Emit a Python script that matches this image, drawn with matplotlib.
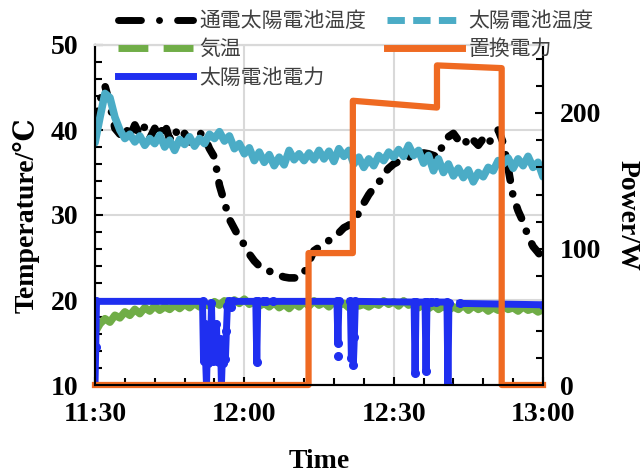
import numpy as np
import matplotlib
matplotlib.use('Agg')
import matplotlib.pyplot as plt
from matplotlib.lines import Line2D
from matplotlib.ticker import MultipleLocator, FixedLocator

plt.rcParams['font.family'] = ['Liberation Serif', 'DejaVu Serif']
plt.rcParams['font.weight'] = 'bold'

nan = np.nan

# minutes after 11:30, one reading per minute
minutes = list(range(0, 91))

# 通電太陽電池温度 (degC)
cell_temp_on = [40.8, 43.5, 45.2, 43.0, 40.2, 39.5, 40.5, 39.2, 40.6, 39.4,
                40.4, 39.0, 40.2, 39.3, 40.8, 38.9, 40.1, 39.0, 39.6, 38.6,
                39.4, 39.7, 39.2, 37.8, 36.8, 33.5, 31.5, 29.5, 28.4, 27.3,
                26.5, 25.4, 24.6, 24.0, 23.7, 23.4, 23.1, 22.9, 22.7, 22.6,
                22.6, 22.6, 23.2, 24.5, 25.8, 26.2, 26.6, 27.0, 27.5, 27.9,
                28.5, 28.8, 29.5, 30.2, 31.4, 32.4, 33.2, 33.8, 34.8, 35.5,
                36.0, 36.3, 36.5, 36.8, 37.0, 37.1, 37.3, 37.2, 37.0, 36.8,
                38.6, 39.2, 39.6, 38.8, 39.2, 38.1, 38.8, 38.2, 39.0, 38.3,
                39.4, 40.0, 38.5, 35.5, 32.2, 30.5, 29.2, 27.5, 26.3, 25.6,
                24.8]

# 太陽電池温度 (degC)
cell_temp = [38.5, 41.5, 44.3, 43.8, 41.5, 40.0, 39.0, 39.5, 38.6, 39.3,
             38.2, 39.0, 38.4, 39.4, 38.0, 38.8, 37.6, 38.9, 38.3, 39.2,
             38.1, 39.0, 38.4, 39.5, 39.0, 39.8, 38.7, 39.3, 37.8, 38.4,
             37.2, 37.9, 36.4, 37.4, 36.2, 37.1, 35.8, 36.8, 35.9, 37.6,
             36.5, 37.2, 36.4, 37.3, 36.5, 37.6, 36.6, 37.5, 36.3, 37.8,
             36.9, 37.6, 36.0, 36.8, 35.6, 36.6, 35.8, 37.0, 36.4, 37.4,
             36.8, 37.7, 36.9, 38.2, 37.0, 37.6, 36.1, 37.0, 35.2, 36.6,
             35.0, 36.0, 34.6, 35.5, 34.4, 35.3, 33.9, 35.0, 34.5, 35.6,
             35.2, 36.4, 36.0, 36.7, 35.5, 36.6, 35.8, 36.9, 35.6, 36.2,
             34.5]

# 気温 (degC)
air_temp = [16.2, 17.2, 17.8, 17.4, 18.2, 17.9, 18.6, 18.2, 18.9, 18.4,
            19.1, 18.7, 19.3, 18.8, 19.2, 18.9, 19.4, 19.0, 19.5, 19.1,
            19.6, 19.2, 19.5, 19.3, 19.8, 19.4, 19.9, 19.5, 20.0, 19.6,
            20.1, 19.5, 19.8, 19.3, 19.6, 19.2, 19.7, 19.1, 19.5, 19.0,
            19.6, 19.2, 19.8, 19.3, 19.9, 19.4, 19.7, 19.2, 19.8, 19.4,
            19.6, 19.1, 19.7, 19.3, 19.5, 19.2, 19.6, 19.4, 19.9, 19.5,
            19.8, 19.3, 19.9, 19.4, 19.7, 19.1, 19.5, 19.0, 19.4, 18.9,
            19.3, 18.8, 19.2, 18.9, 19.4, 18.8, 19.3, 18.9, 19.2, 18.7,
            19.1, 18.8, 19.3, 18.9, 19.1, 18.7, 19.2, 18.8, 19.0, 18.6,
            18.9]

# 太陽電池電力 (W)
pv_t = [0.0, 0.15, 0.3, 21.6, 21.8, 22.0, 22.2, 22.4, 22.6, 22.8,
        23.0, 23.2, 23.4, 23.6, 23.8, 24.0, 24.2, 24.4, 24.6, 24.8,
        25.0, 25.2, 25.4, 25.6, 25.8, 26.0, 26.2, 26.4, 26.6, 26.9,
        nan, 27.3, nan, 27.8, 32.3, 32.5, 32.7, 33.8, nan, 34.4,
        nan, 35.8, 48.6, 48.8, 49.0, nan, 48.8, nan, 51.3, 51.5,
        51.7, 51.9, 52.1, 52.3, 64.1, 64.3, 64.5, 66.3, 66.5, 66.7,
        67.4, nan, 68.5, 70.7, 70.9, 71.1, nan, 73.3, 90.0]
pv_w = [0, 28, 61.5, 61.5, 18, 45, 20, 0, 30, 16,
        42, 22, 60, 24, 18, 35, 20, 45, 18, 28,
        17, 34, 0, 22, 16, 30, 19, 40, 58, 61.5,
        nan, 57, nan, 61.5, 61.5, 17, 61.5, 61.5, nan, 61.5,
        nan, 61.5, 61.5, 31, 61.5, nan, 21, nan, 61.5, 20,
        50, 15, 35, 61.5, 61, 9, 61, 61, 10, 61,
        61, nan, 61, 61, 0, 60, nan, 60, 59]

# 置換電力 (W)
sub_t = [0, 42.9, 42.9, 51.8, 51.8, 68.7, 68.7, 81.7, 81.7, 90]
sub_w = [0, 0, 97, 97, 209, 204, 235, 233, 0, 0]

xtick_pos = [0, 30, 60, 90]
xtick_labels = ['11:30', '12:00', '12:30', '13:00']

black = '#000000'
teal = '#4BACC6'
green = '#70AD47'
blue = '#1F2FF0'
orange = '#EF6A22'
grid_c = '#D9D9D9'

fig = plt.figure(figsize=(6.41, 4.73), dpi=100)
ax = fig.add_axes([95 / 641, 88 / 473, 448 / 641, 340 / 473])
ax2 = ax.twinx()

ax.plot(minutes, cell_temp_on, color=black, lw=5.5, dashes=(1.6, 1.8, 0.01, 1.8),
        dash_capstyle='round', solid_joinstyle='round')
ax.plot(minutes, cell_temp, color=teal, lw=5.5, solid_joinstyle='round',
        solid_capstyle='round')
ax.plot(minutes, air_temp, color=green, lw=5.5, solid_joinstyle='round',
        solid_capstyle='round')
ax2.plot(pv_t, pv_w, color=blue, lw=5, marker='o', ms=5.5,
         solid_joinstyle='round')
ax2.plot(sub_t, sub_w, color=orange, lw=4.5, clip_on=False,
         solid_joinstyle='round')

ax.set_xlim(0, 90)
ax.set_ylim(10, 50)
ax2.set_ylim(0, 250)

ax.xaxis.set_major_locator(FixedLocator(xtick_pos))
ax.set_xticklabels(xtick_labels)
ax.xaxis.set_minor_locator(MultipleLocator(6))
ax.yaxis.set_major_locator(MultipleLocator(10))
ax.yaxis.set_minor_locator(MultipleLocator(2))
ax2.yaxis.set_major_locator(MultipleLocator(100))
ax2.yaxis.set_minor_locator(MultipleLocator(20))

ax.grid(True, which='major', color=grid_c, lw=1.5)
ax.set_axisbelow(True)

ax.tick_params(which='both', direction='in', labelsize=20, width=1.5,
               top=False, right=False, pad=12)
ax.tick_params(which='major', length=6)
ax.tick_params(which='minor', length=5)
ax2.tick_params(which='both', direction='in', labelsize=20, width=1.5, pad=12)
ax2.tick_params(which='major', length=6)
ax2.tick_params(which='minor', length=5)

for a in (ax, ax2):
    for s in a.spines.values():
        s.set_linewidth(1.5)
    a.spines['top'].set_color(grid_c)

ax.set_xlabel('Time', fontsize=20, fontweight='bold', labelpad=16)
ax.set_ylabel('Temperature/℃', fontsize=20, fontweight='bold', labelpad=8)
ax2.set_ylabel('Power/W', fontsize=20, fontweight='bold', rotation=270,
               labelpad=28)

handles = [
    Line2D([], [], color=black, lw=5, dashes=(3.3, 2.6, 0.01, 2.6),
           dash_capstyle='round'),
    Line2D([], [], color=green, lw=5, dashes=(4.3, 2.2)),
    Line2D([], [], color=blue, lw=5),
    Line2D([], [], color=teal, lw=5, dashes=(2.5, 1.2)),
    Line2D([], [], color=orange, lw=5),
]
labels = ['通電太陽電池温度', '気温', '太陽電池電力', '太陽電池温度', '置換電力']
fig.legend(handles, labels, ncol=2, loc='upper left',
           bbox_to_anchor=(118 / 641, 1 - 10 / 473), frameon=False,
           prop={'family': 'Noto Sans CJK JP', 'size': 15, 'weight': 'normal'},
           labelcolor='#404040', handlelength=3.6, handletextpad=0.3,
           columnspacing=1.0, labelspacing=0.3, borderpad=0, borderaxespad=0)

fig.savefig('out.png', dpi=100)
